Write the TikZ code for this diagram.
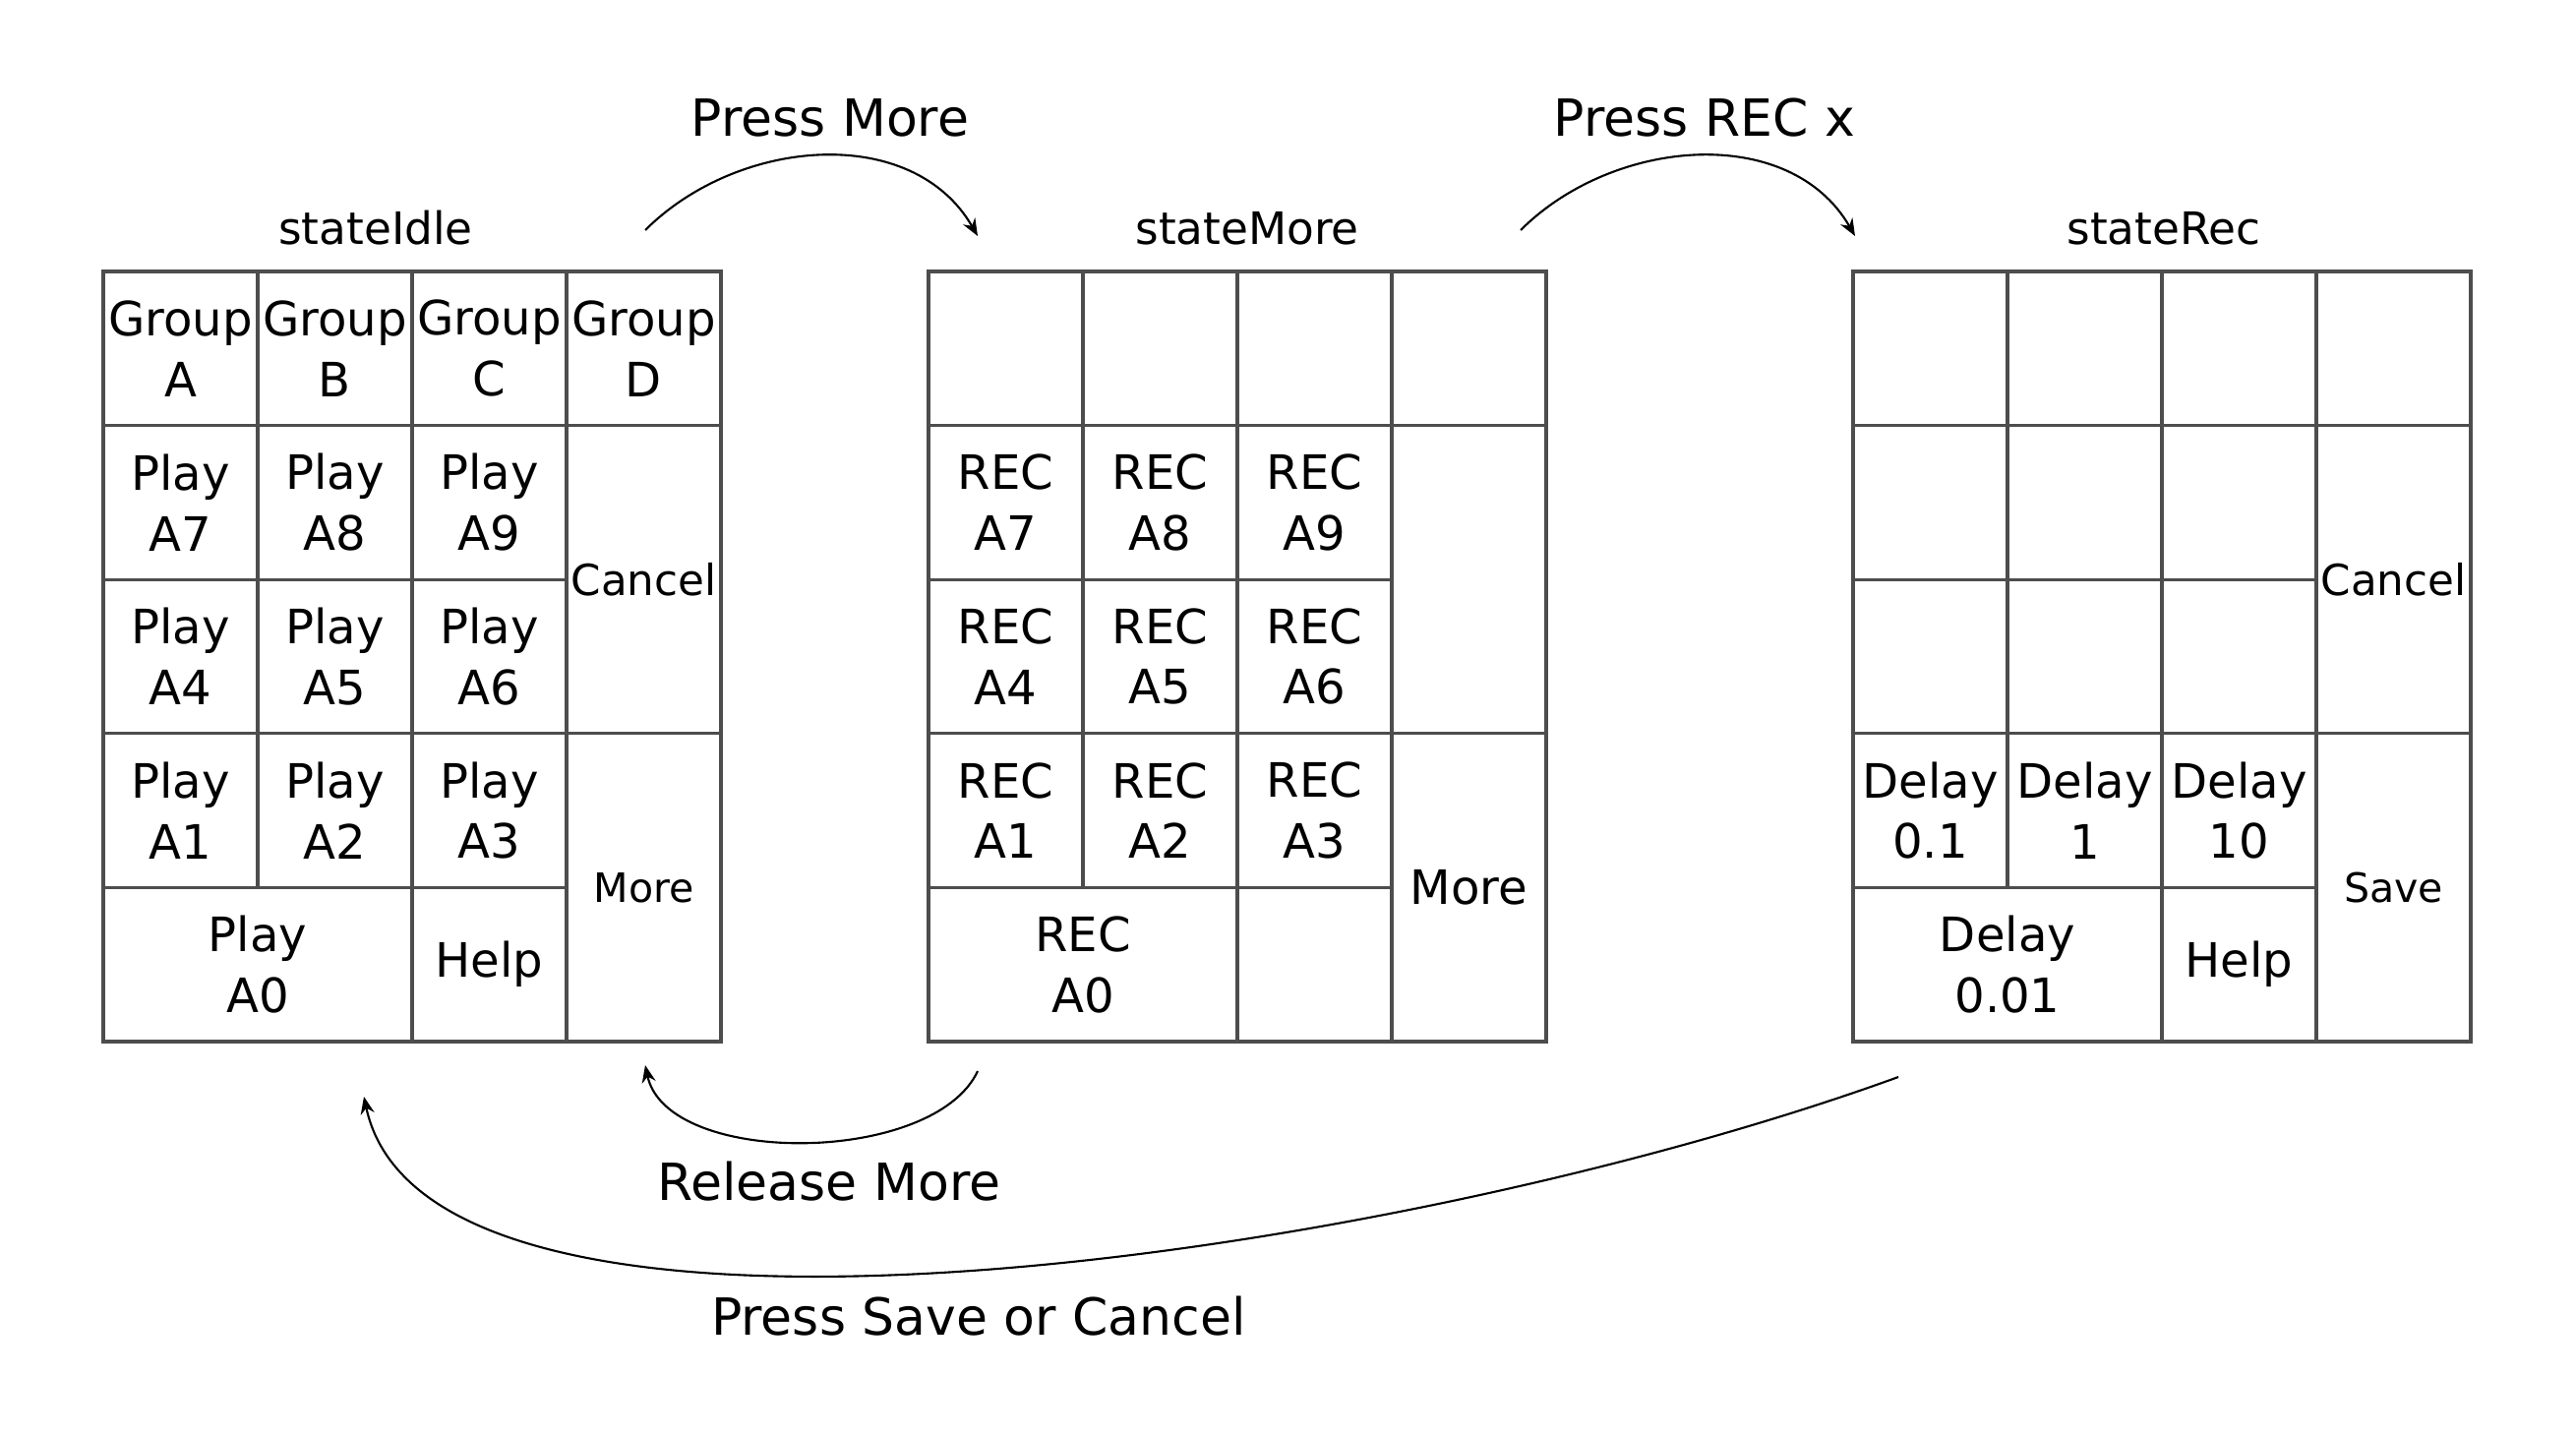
\documentclass[tikz,border=0pt]{standalone}
\usepackage{fontspec}
\setmainfont{DejaVu Sans}
\usetikzlibrary{arrows.meta, positioning}
\definecolor{keyline}{RGB}{77,77,77}

\begin{document}
\begin{tikzpicture}[
        cell/.style={rectangle, draw=keyline, line width=0.9pt, minimum width=1.57cm, minimum height=1.566cm,
            inner sep=0pt, outer sep=0pt, anchor=north west, align=center, font=\fontsize{13.7}{17.6}\selectfont},
        tallcell/.style={cell, minimum height=3.132cm},
        widecell/.style={cell, minimum width=3.14cm},
        cancelfont/.style={font=\fontsize{12.4}{15}\selectfont},
        smallfont/.style={font=\fontsize{11.7}{14}\selectfont},
        title/.style={font=\fontsize{12.9}{15}\selectfont},
        trans/.style={font=\fontsize{14.8}{18}\selectfont},
        arrow/.style={-{Stealth[length=5pt, width=4pt]}, line width=0.6pt}
    ]
        \useasboundingbox (0,0) rectangle (26.19,-14.58);

        % stateIdle
        \node[title] (idle-title) at (3.82,-2.32) {stateIdle};
        \begin{scope}[shift={(1.05,-2.76)}, x=1.57cm, y=1.566cm]
            \foreach \g/\c in {A/0,B/1,C/2,D/3}
                \node[cell] (idle-g\g) at (\c,0) {Group\\\g};
            \foreach \n/\c/\r in {7/0/1,8/1/1,9/2/1,4/0/2,5/1/2,6/2/2,1/0/3,2/1/3,3/2/3}
                \node[cell] (idle-a\n) at (\c,-\r) {Play\\A\n};
            \node[widecell] (idle-a0) at (0,-4) {Play\\A0};
            \node[cell] (idle-help) at (2,-4) {Help};
            \node[tallcell, cancelfont] (idle-cancel) at (3,-1) {Cancel};
            \node[tallcell, smallfont] (idle-more) at (3,-3) {More};
        \end{scope}

        % stateMore
        \node[title] (more-title) at (12.68,-2.32) {stateMore};
        \begin{scope}[shift={(9.44,-2.76)}, x=1.57cm, y=1.566cm]
            \foreach \c in {0,1,2,3}
                \node[cell] (more-top\c) at (\c,0) {};
            \foreach \n/\c/\r in {7/0/1,8/1/1,9/2/1,4/0/2,5/1/2,6/2/2,1/0/3,2/1/3,3/2/3}
                \node[cell] (more-a\n) at (\c,-\r) {REC\\A\n};
            \node[widecell] (more-a0) at (0,-4) {REC\\A0};
            \node[cell] (more-empty) at (2,-4) {};
            \node[tallcell] (more-side) at (3,-1) {};
            \node[tallcell] (more-more) at (3,-3) {More};
        \end{scope}

        % stateRec
        \node[title] (rec-title) at (22.00,-2.32) {stateRec};
        \begin{scope}[shift={(18.84,-2.76)}, x=1.57cm, y=1.566cm]
            \foreach \c in {0,1,2,3}
                \node[cell] (rec-top\c) at (\c,0) {};
            \foreach \c/\r in {0/1,1/1,2/1,0/2,1/2,2/2}
                \node[cell] (rec-e\c\r) at (\c,-\r) {};
            \foreach \d/\c in {0.1/0,1/1,10/2}
                \node[cell] (rec-d\c) at (\c,-3) {Delay\\\d};
            \node[widecell] (rec-d001) at (0,-4) {Delay\\0.01};
            \node[cell] (rec-help) at (2,-4) {Help};
            \node[tallcell, cancelfont] (rec-cancel) at (3,-1) {Cancel};
            \node[tallcell, smallfont] (rec-save) at (3,-3) {Save};
        \end{scope}

        % transition ends
        \coordinate (idle-out) at (6.56,-2.34);
        \coordinate (more-in) at (9.94,-2.40);
        \coordinate (more-out) at (15.46,-2.34);
        \coordinate (rec-in) at (18.86,-2.40);
        \coordinate (more-back) at (9.94,-10.89);
        \coordinate (idle-back) at (6.56,-10.83);
        \coordinate (rec-back) at (19.30,-10.95);
        \coordinate (idle-home) at (3.70,-11.15);

        \draw[arrow] (idle-out) .. controls +(45:1.33) and +(120:1.33) .. (more-in);
        \draw[arrow] (more-out) .. controls +(45:1.33) and +(120:1.33) .. (rec-in);
        \draw[arrow] (more-back) .. controls +(-115:1.06) and +(-78:1.06) .. (idle-back);
        \draw[arrow] (rec-back) .. controls +(-160:5.43) and +(-78:3.17) .. (idle-home);

        \node[trans] (press-more) at (8.44,-1.20) {Press More};
        \node[trans] (press-rec) at (17.33,-1.20) {Press REC x};
        \node[trans] (release-more) at (8.43,-12.01) {Release More};
        \node[trans] (press-save) at (9.95,-13.38) {Press Save or Cancel};

    \end{tikzpicture}
\end{document}
